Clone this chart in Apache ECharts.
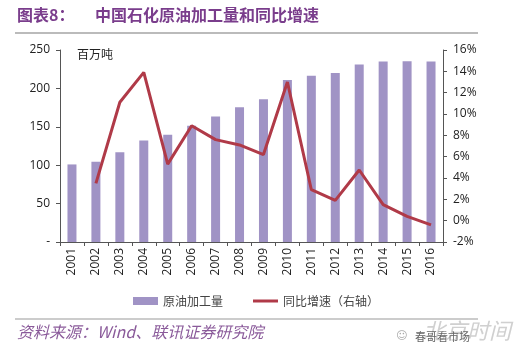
<!DOCTYPE html>
<html><head><meta charset="utf-8">
<script src="https://cdn.jsdelivr.net/npm/echarts@6/dist/echarts.min.js"></script>
<style>html,body{margin:0;padding:0;background:#fff}#c{width:530px;height:358px}</style>
</head><body><div id="c"></div>
<script>
const years = ['2001','2002','2003','2004','2005','2006','2007','2008','2009','2010','2011','2012','2013','2014','2015','2016'];
const throughput = [101, 104.5, 117, 132, 139.5, 151.5, 163.5, 175.5, 186, 211, 216.5, 220, 231, 235, 235.5, 235];
const growth = [null, 3.5, 11.1, 13.9, 5.3, 8.9, 7.6, 7.1, 6.2, 13.0, 2.9, 1.9, 4.75, 1.5, 0.4, -0.4];
const leftTicks = {min: 0, max: 250, interval: 50};
const rightTicks = {min: -2, max: 16, interval: 2};

const chart = echarts.init(document.getElementById('c'));
const font = 'Open Sans, Liberation Sans, Noto Sans CJK SC, sans-serif';
chart.setOption({
  animation: false,
  textStyle: {fontFamily: font},
  grid: {left: 60, right: 87, top: 50, bottom: 116},
  legend: {
    top: 290, left: 128, itemGap: 30, itemWidth: 25, itemHeight: 8,
    symbolKeepAspect: true,
    textStyle: {fontSize: 12, color: '#444', fontFamily: 'Noto Sans CJK SC'},
    data: [{name: '原油加工量', icon: 'rect'},
           {name: '同比增速（右轴）', icon: 'path://M0,0 L25,0 L25,3 L0,3 Z', itemStyle: {color: '#b03a48', borderWidth: 0}}]
  },
  xAxis: {
    type: 'category', data: years,
    axisLine: {lineStyle: {color: '#555'}},
    axisTick: {show: true, alignWithLabel: false, length: 4, lineStyle: {color: '#555'}},
    axisLabel: {rotate: 90, color: '#222', fontSize: 12, margin: 6, fontFamily: font}
  },
  yAxis: [
    {type: 'value', min: leftTicks.min, max: leftTicks.max, interval: leftTicks.interval,
     splitLine: {show: false},
     axisLine: {show: true, lineStyle: {color: '#555'}},
     axisTick: {show: true, length: 4, lineStyle: {color: '#555'}},
     axisLabel: {color: '#222', fontSize: 12, margin: 10, formatter: v => v === 0 ? '-' : v}},
    {type: 'value', min: rightTicks.min, max: rightTicks.max, interval: rightTicks.interval,
     splitLine: {show: false},
     axisLine: {show: true, lineStyle: {color: '#555'}},
     axisTick: {show: true, length: 4, lineStyle: {color: '#555'}},
     axisLabel: {color: '#222', fontSize: 12, margin: 10, formatter: v => v + '%'}}
  ],
  series: [
    {name: '原油加工量', type: 'bar', data: throughput, barWidth: 9, itemStyle: {color: '#a093c5'}},
    {name: '同比增速（右轴）', type: 'line', yAxisIndex: 1, data: growth, symbol: 'none',
     lineStyle: {color: '#b03a48', width: 3}, itemStyle: {color: '#b03a48'}}
  ],
  graphic: [
    {type: 'text', left: 17, top: 7, style: {text: '图表8：', fill: '#7a3d8c', font: 'bold 16px "Noto Sans CJK SC"'}},
    {type: 'text', left: 95, top: 7, style: {text: '中国石化原油加工量和同比增速', fill: '#7a3d8c', font: 'bold 16px "Noto Sans CJK SC"'}},
    {type: 'rect', shape: {x: 15, y: 32, width: 463, height: 2}, style: {fill: '#bbb'}},
    {type: 'text', left: 77, top: 48, style: {text: '百万吨', fill: '#222', font: '12px "Noto Sans CJK SC"'}},
    {type: 'rect', shape: {x: 15, y: 318, width: 463, height: 2}, style: {fill: '#ccc'}},
    {type: 'text', left: 17, top: 324, style: {text: '资料来源：Wind、联讯证券研究院', fill: '#8a5a9a', font: 'italic 16px "Noto Sans CJK SC"'}},
    {type: 'text', left: 423, top: 320, style: {text: '北京时间', fill: '#d0d0d0', font: 'italic 22px "Noto Sans CJK SC"'}},
    {type: 'text', left: 415, top: 331, style: {text: '春哥看市场', fill: '#666', font: '11px "Noto Sans CJK SC"'}},
    {type: 'text', left: 396, top: 331, style: {text: '☺', fill: '#aaa', font: '11px "DejaVu Sans"'}}
  ]
});
</script></body></html>
